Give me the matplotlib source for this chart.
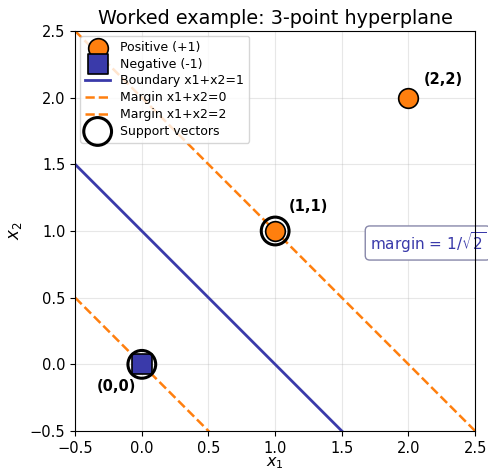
import numpy as np
import matplotlib
matplotlib.use("Agg")
import matplotlib.pyplot as plt

pos_x = [1, 2]
pos_y = [1, 2]
neg_x = [0]
neg_y = [0]
sv_x = [0, 1]
sv_y = [0, 1]
labels = ["(0,0)", "(1,1)", "(2,2)"]
label_pts = [(0, 0), (1, 1), (2, 2)]

fig = plt.figure(figsize=(4.88, 4.74), dpi=100)
ax = fig.add_axes([0.154, 0.0907, 0.8197, 0.8439])

xs = np.linspace(-0.5, 2.5, 200)
blue = "#3a3aaa"
orange = "#ff7f0e"
ax.plot(xs, 1 - xs, color=blue, lw=2, label="Boundary x1+x2=1", zorder=2)
ax.plot(xs, 0 - xs, color=orange, lw=1.8, ls="--", label="Margin x1+x2=0", zorder=2)
ax.plot(xs, 2 - xs, color=orange, lw=1.8, ls="--", label="Margin x1+x2=2", zorder=2)

ax.scatter(pos_x, pos_y, s=200, color=orange, edgecolor="black", lw=1.2, zorder=4, label="Positive (+1)")
ax.scatter(neg_x, neg_y, s=200, marker="s", color=blue, edgecolor="black", lw=1.2, zorder=4, label="Negative (-1)")
ax.scatter(sv_x, sv_y, s=400, facecolors="none", edgecolors="black", lw=2.2, zorder=5, label="Support vectors")

ax.annotate(labels[0], label_pts[0], xytext=(-4, -16), textcoords="offset points",
            fontweight="bold", fontsize=10.5, ha="right", va="center")
ax.annotate(labels[1], label_pts[1], xytext=(10, 18), textcoords="offset points",
            fontweight="bold", fontsize=10.5, ha="left", va="center")
ax.annotate(labels[2], label_pts[2], xytext=(11, 13), textcoords="offset points",
            fontweight="bold", fontsize=10.5, ha="left", va="center")

ax.text(1.71, 0.91, r"margin = $1/\sqrt{2}$", color=blue, fontsize=11, ha="left", va="center",
        bbox=dict(boxstyle="round,pad=0.3", fc="white", ec="#8888aa"), clip_on=False, zorder=2)

ax.set_xlim(-0.5, 2.5)
ax.set_ylim(-0.5, 2.5)
ax.set_xticks(np.arange(-0.5, 2.51, 0.5))
ax.set_yticks(np.arange(-0.5, 2.51, 0.5))
ax.tick_params(labelsize=10.5)
ax.grid(True, alpha=0.3)
ax.set_xlabel("$x_1$", fontsize=11.5, labelpad=0)
ax.set_ylabel("$x_2$", fontsize=12)
ax.set_title("Worked example: 3-point hyperplane", fontsize=13.8, pad=5)

h, l = ax.get_legend_handles_labels()
order = [3, 4, 0, 1, 2, 5]
ax.legend([h[i] for i in order], [l[i] for i in order], loc="upper left", fontsize=9,
          borderaxespad=0.4, labelspacing=0.3)

fig.savefig("out.png", dpi=100)
